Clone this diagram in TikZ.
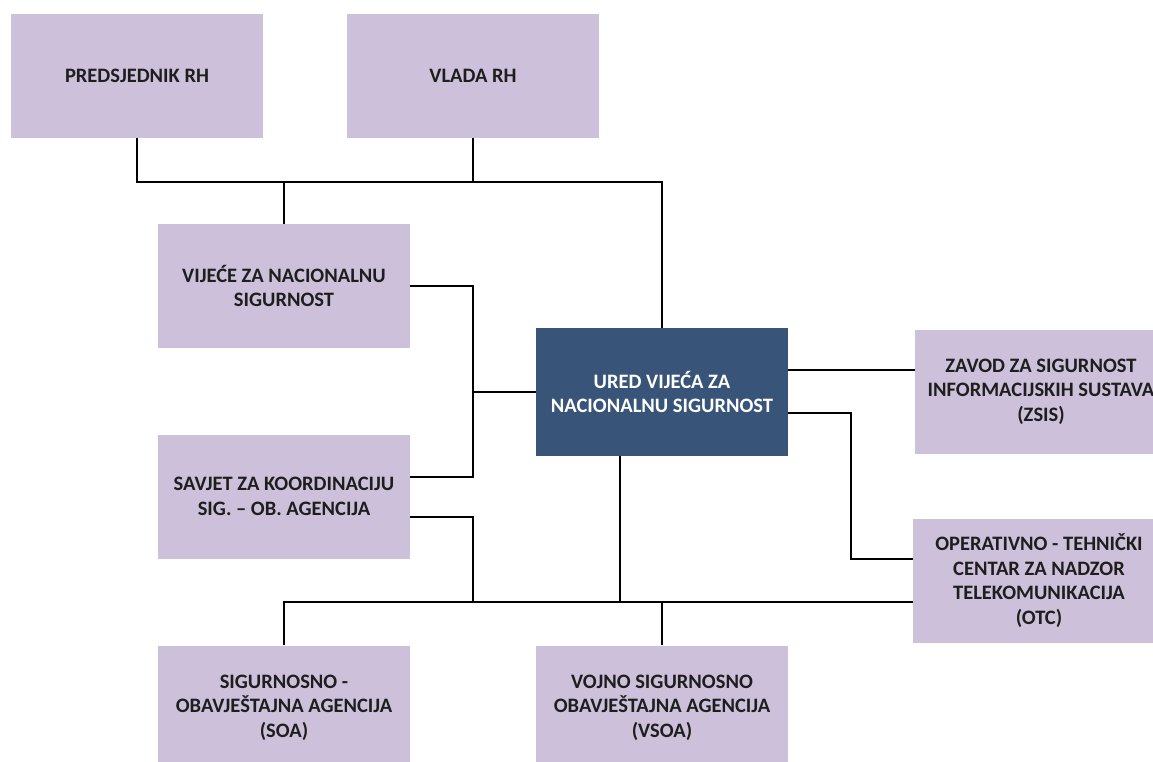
\documentclass[tikz,border=0pt]{standalone}
\usepackage{fontspec}
\setmainfont{Carlito}
\definecolor{lav}{HTML}{CDC0DA}
\definecolor{uredblue}{HTML}{385478}
\definecolor{txt}{HTML}{1E1E1E}
\begin{document}
\begin{tikzpicture}[x=1pt,y=-1pt,
  orgbox/.style={fill=lav, draw=none, minimum width=252pt, minimum height=124pt,
    inner sep=0pt, align=center, text=txt,
    font=\fontsize{20.5}{24.5}\selectfont\bfseries},
  mainbox/.style={orgbox, fill=uredblue, text=white, minimum height=128pt},
  conn/.style={draw=black, line width=1.5pt}]
\useasboundingbox (0,0) rectangle (1153,762);
\fill[white] (0,0) rectangle (1153,762);

\node[orgbox] (pred)   at (137,76)    {PREDSJEDNIK RH};
\node[orgbox] (vlada)  at (473,76)    {VLADA RH};
\node[orgbox] (vijece) at (284,286)   {VIJEĆE ZA NACIONALNU\\SIGURNOST};
\node[mainbox] (ured)  at (662,392)   {URED VIJEĆA ZA\\NACIONALNU SIGURNOST};
\node[orgbox] (zavod)  at (1041,391.5) {ZAVOD ZA SIGURNOST\\INFORMACIJSKIH SUSTAVA\\(ZSIS)};
\node[orgbox] (savjet) at (284,496.5) {SAVJET ZA KOORDINACIJU\\SIG. – OB. AGENCIJA};
\node[orgbox] (otc)    at (1039,580.5) {OPERATIVNO - TEHNIČKI\\CENTAR ZA NADZOR\\TELEKOMUNIKACIJA\\(OTC)};
\node[orgbox] (soa)    at (284,707.5) {SIGURNOSNO -\\OBAVJEŠTAJNA AGENCIJA\\(SOA)};
\node[orgbox] (vsoa)   at (662,707.5) {VOJNO SIGURNOSNO\\OBAVJEŠTAJNA AGENCIJA\\(VSOA)};

\coordinate (tb) at (0,182);
\coordinate (bus) at (0,602);
\coordinate (lv) at (473,0);
\coordinate (rv) at (851,0);
\coordinate (sA) at ([yshift=19.5pt]savjet.east);
\coordinate (sB) at ([yshift=-20.5pt]savjet.east);
\coordinate (uE1) at ([yshift=22pt]ured.east);
\coordinate (uE2) at ([yshift=-21pt]ured.east);
\coordinate (oW) at ([yshift=21.5pt]otc.west);
\coordinate (uS) at ([xshift=-42pt]ured.south);

% top bus
\draw[conn] (pred.south) -- (pred.south |- tb) -- (tb -| ured.north) -- (ured.north);
\draw[conn] (vlada.south) -- (vlada.south |- tb);
\draw[conn] (vijece.north) -- (vijece.north |- tb);

% left connections
\draw[conn] (vijece.east) -- (vijece.east -| lv) -- (sA -| lv) -- (sA);
\draw[conn] (ured.west) -- (ured.west -| lv);
\draw[conn] (sB) -- (sB -| lv) -- (lv |- bus);

% bottom bus
\draw[conn] (soa.north) -- (soa.north |- bus) -- (bus -| otc.west);
\draw[conn] (uS) -- (uS |- bus);
\draw[conn] (vsoa.north) -- (vsoa.north |- bus);

% right connections
\draw[conn] (uE1) -- (uE1 -| zavod.west);
\draw[conn] (uE2) -- (uE2 -| rv) -- (oW -| rv) -- (oW);
\end{tikzpicture}
\end{document}
